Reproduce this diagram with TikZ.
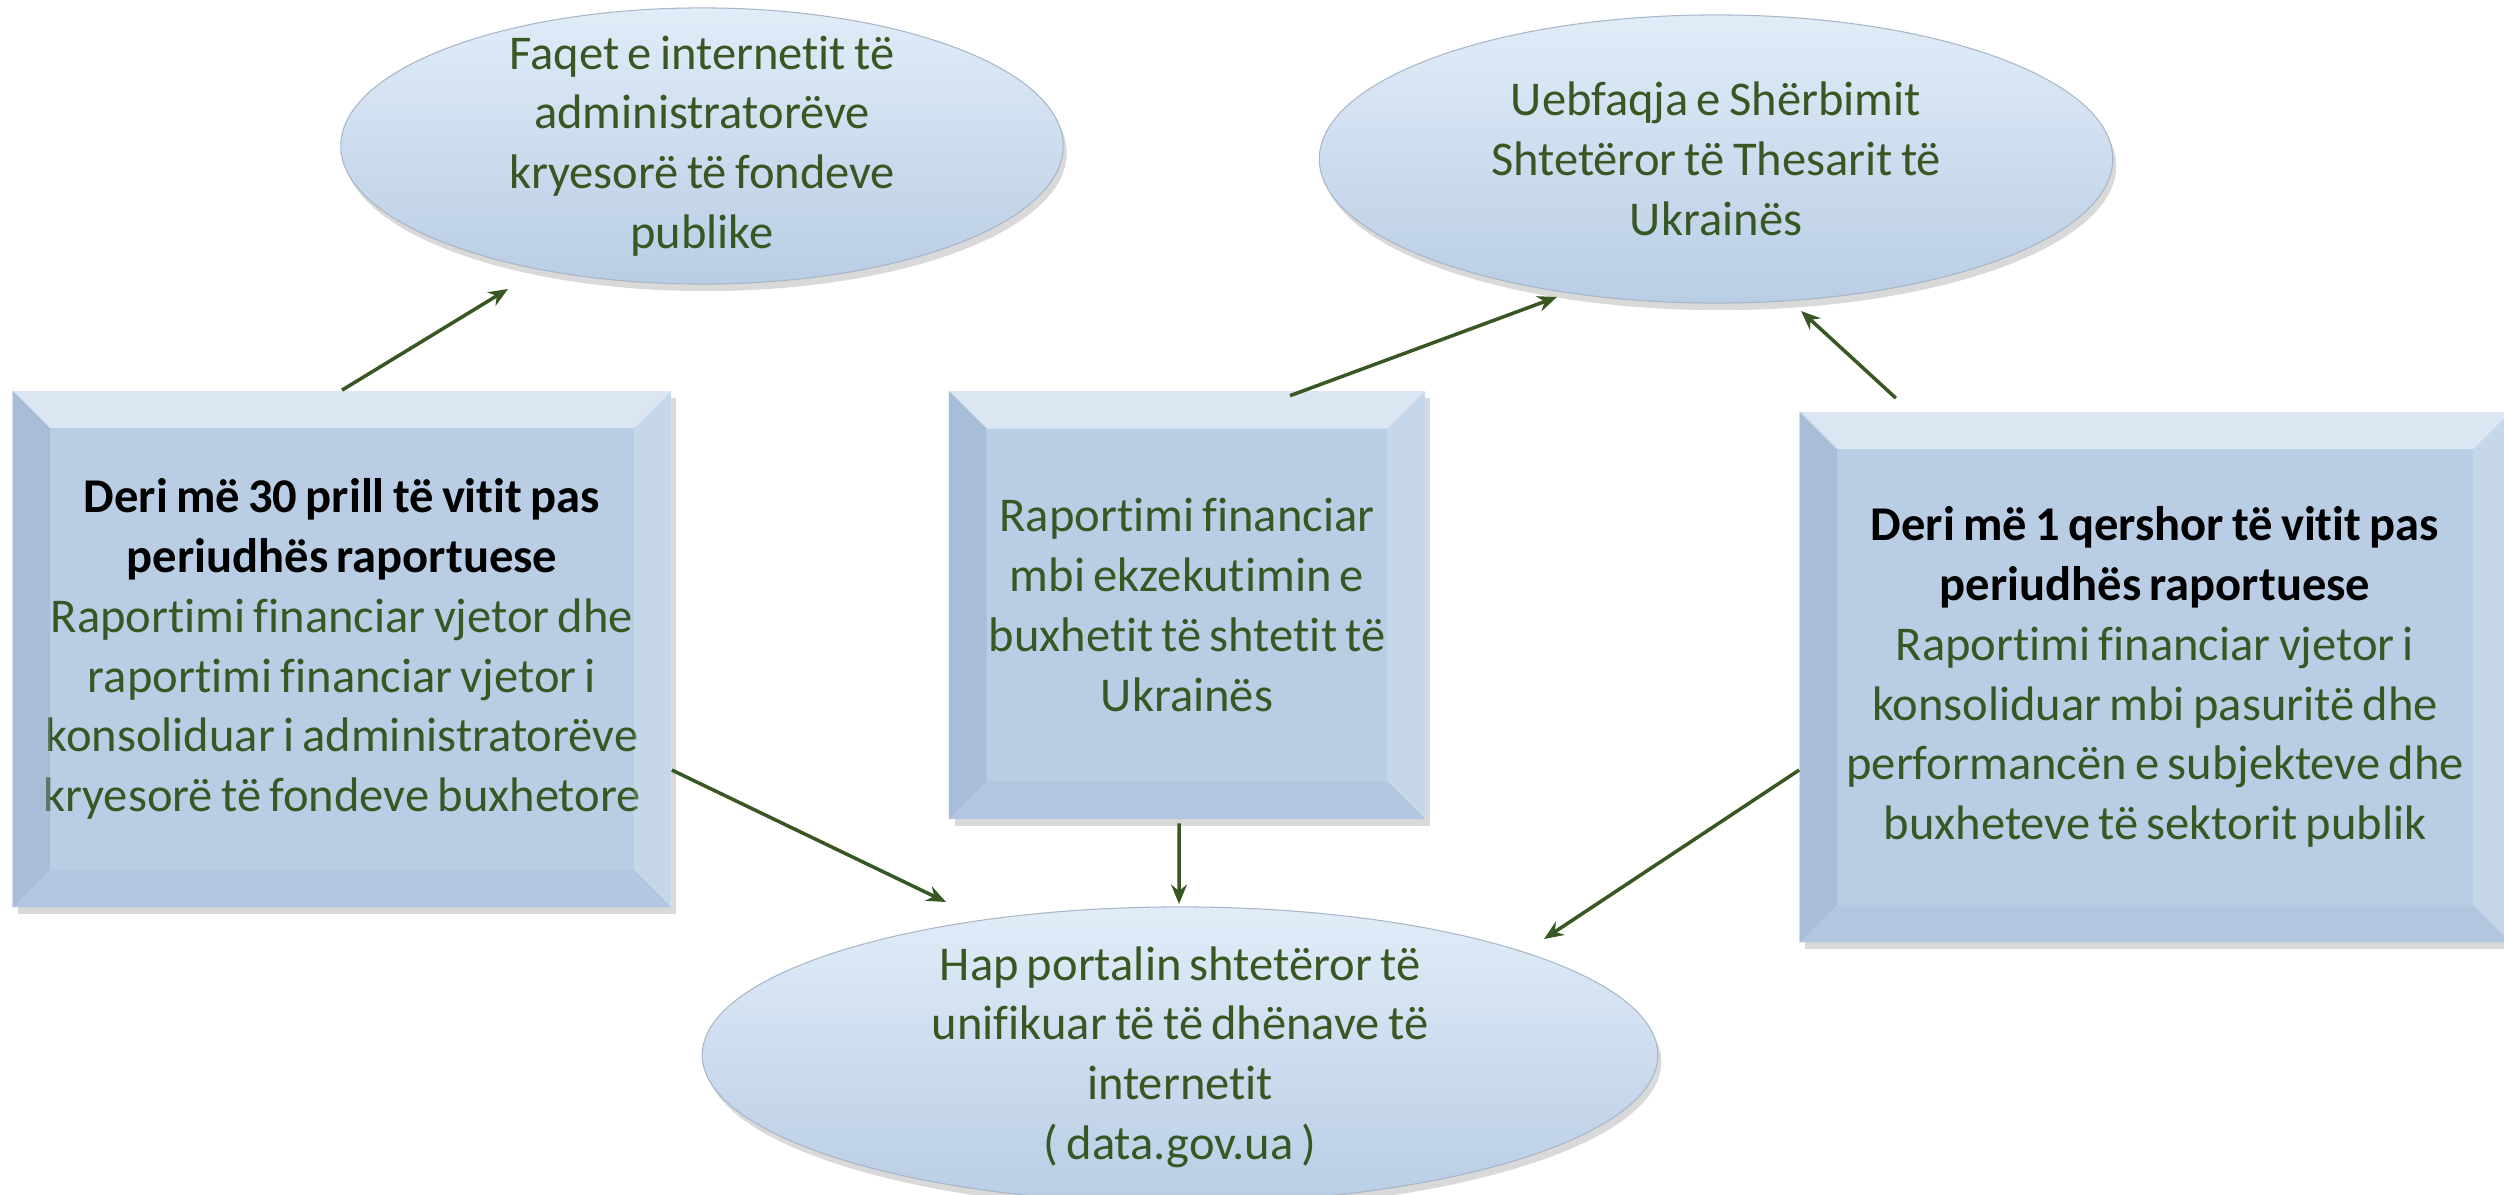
\documentclass[tikz,border=0pt]{standalone}
\usepackage{fontspec}
\setmainfont{Carlito}[Ligatures=NoCommon, WordSpace=0.75]
\usetikzlibrary{shapes.geometric,shadows,arrows.meta}

\definecolor{boxblue}{HTML}{B9CDE5}
\definecolor{ellhi}{HTML}{E1ECF8}
\definecolor{bevdark}{HTML}{8FA7C3}
\definecolor{txtgreen}{HTML}{385723}

\tikzset{
	box/.style={rectangle, fill=boxblue, inner sep=0pt, align=flush center, text=txtgreen,
		font=\fontsize{13.8}{17}\selectfont,
		drop shadow={shadow xshift=1.5pt, shadow yshift=-2pt, opacity=0.3}},
	ell/.style={ellipse, inner sep=0pt, top color=ellhi, middle color=boxblue, bottom color=boxblue,
		draw=boxblue!70!gray, line width=0.3pt,
		drop shadow={shadow xshift=1pt, shadow yshift=-2pt, opacity=0.3}},
	lbl/.style={align=center, text=txtgreen, font=\fontsize{13.8}{17}\selectfont},
	arr/.style={draw=txtgreen, line width=1pt, -{Stealth[length=5.5pt, width=4.5pt]}},
}
\newcommand{\bev}{0.38cm}
\newcommand{\hd}[1]{{\color{black}\bfseries #1}}

\begin{document}
\begin{tikzpicture}[x=0.01cm, y=-0.01cm]
	\useasboundingbox (0,0) rectangle (2504,1195);

	% ovals
	\node (tlell) at (702,146) [ell, minimum width=7.22cm, minimum height=2.76cm] {};
	\node (trell) at (1716,159) [ell, minimum width=7.93cm, minimum height=2.88cm] {};
	\node (botell) at (1180,1055) [ell, minimum width=9.55cm, minimum height=2.96cm] {};

	\node (tltxt) at (tlell) [lbl] {Faqet e internetit të\\administratorëve\\kryesorë të fondeve\\publike};
	\node (trtxt) at (trell) [lbl] {Uebfaqja e Shërbimit\\Shtetëror të Thesarit të\\Ukrainës};
	\node (bottxt) at (1180,1057) [lbl] {Hap portalin shtetëror të\\unifikuar të të dhënave të\\internetit\\( data.gov.ua )};

	% boxes
	\node (lbox) at (342,649) [box, minimum width=6.58cm, minimum height=5.16cm, text width=6.3cm]
		{\hd{Deri më 30 prill të vitit pas}\\ \hd{periudhës raportuese}\\
		 Raportimi financiar vjetor dhe\\ raportimi financiar vjetor i\\
		 konsoliduar i administratorëve\\ kryesorë të fondeve buxhetore};
	\node (mbox) at (1187,605) [box, minimum width=4.75cm, minimum height=4.27cm, text width=4.5cm]
		{Raportimi financiar\\ mbi ekzekutimin e\\ buxhetit të shtetit të\\ Ukrainës};
	\node (rbox) at (2155,677) [box, minimum width=7.1cm, minimum height=5.3cm, text width=6.8cm]
		{\hd{Deri më 1 qershor të vitit pas}\\ \hd{periudhës raportuese}\\
		 Raportimi financiar vjetor i\\ konsoliduar mbi pasuritë dhe\\
		 performancën e subjekteve dhe\\ buxheteve të sektorit publik};

	\foreach \b in {lbox,mbox,rbox}{
		\fill[white, opacity=0.5] (\b.north west) -- (\b.north east) -- ([xshift=-\bev, yshift=-\bev]\b.north east) -- ([xshift=\bev, yshift=-\bev]\b.north west) -- cycle;
		\fill[bevdark, opacity=0.4] (\b.north west) -- ([xshift=\bev, yshift=-\bev]\b.north west) -- ([xshift=\bev, yshift=\bev]\b.south west) -- (\b.south west) -- cycle;
		\fill[white, opacity=0.2] (\b.north east) -- (\b.south east) -- ([xshift=-\bev, yshift=\bev]\b.south east) -- ([xshift=-\bev, yshift=-\bev]\b.north east) -- cycle;
		\fill[bevdark, opacity=0.15] (\b.south west) -- ([xshift=\bev, yshift=\bev]\b.south west) -- ([xshift=-\bev, yshift=\bev]\b.south east) -- (\b.south east) -- cycle;
	}

	% arrow ends
	\coordinate (tlin) at (508,289);
	\coordinate (trin1) at (1557,297);
	\coordinate (trin2) at (1801,311);
	\coordinate (botin1) at (946,902);
	\coordinate (botin2) at (1179,904);
	\coordinate (botin3) at (1544,939);

	\draw[arr] (lbox.north) -- (tlin);
	\draw[arr] ([xshift=1.03cm, yshift=-0.05cm]mbox.north) -- (trin1);
	\draw[arr] ([xshift=-2.59cm, yshift=0.13cm]rbox.north) -- (trin2);
	\draw[arr] ([yshift=-1.21cm]lbox.east) -- (botin1);
	\draw[arr] ([xshift=-0.08cm, yshift=-0.04cm]mbox.south) -- (botin2);
	\draw[arr] ([yshift=-0.93cm]rbox.west) -- (botin3);
\end{tikzpicture}
\end{document}
